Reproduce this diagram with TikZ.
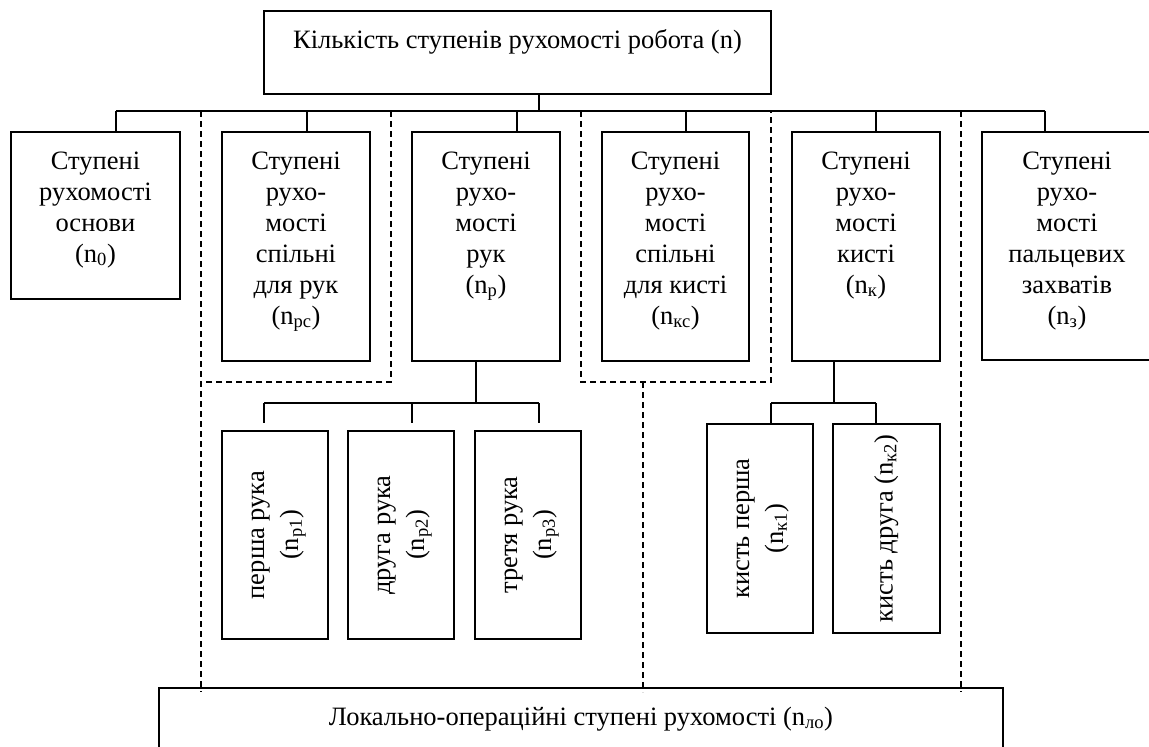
\documentclass[tikz,border=0pt]{standalone}
\usepackage{fontspec}
\usepackage{graphicx}
\setmainfont{Liberation Serif}
\newcommand\blkbox[3]{\parbox[c][#2][t]{#1}{\centering\rule{0pt}{37pt}#3\par}}
\newcommand\rotbox[3]{\parbox[c][#2][c]{#1}{\centering\rotatebox{90}{\begin{tabular}{@{}c@{}}#3\end{tabular}}\par}}
\tikzset{
  blk/.style={draw, line width=1.8pt, inner sep=0pt, outer sep=0pt, anchor=north west, font=\fontsize{26.5}{31}\selectfont},
  con/.style={line width=1.8pt},
  dsh/.style={line width=2pt, dash pattern=on 6pt off 4pt},
}
\begin{document}
\begin{tikzpicture}[x=1pt, y=-1pt]
\useasboundingbox (0,0) rectangle (1149,747);
\clip (0,0) rectangle (1149,747);
\fill[white] (0,0) rectangle (1149,747);
% top box
\node[blk] (T) at (264,11) {\blkbox{507pt}{83pt}{Кількість ступенів рухомості робота (n)}};
% level 1
\node[blk] (B1) at (11,132) {\blkbox{169pt}{167pt}{Ступені\\рухомості\\основи\\(n\textsubscript{0})}};
\node[blk] (B2) at (222,132) {\blkbox{148pt}{229pt}{Ступені\\рухо-\\мості\\спільні\\для рук\\(n\textsubscript{рс})}};
\node[blk] (B3) at (412,132) {\blkbox{148pt}{229pt}{Ступені\\рухо-\\мості\\рук\\(n\textsubscript{р})}};
\node[blk] (B4) at (602,132) {\blkbox{147pt}{229pt}{Ступені\\рухо-\\мості\\спільні\\для кисті\\(n\textsubscript{кс})}};
\node[blk] (B5) at (792,132) {\blkbox{148pt}{229pt}{Ступені\\рухо-\\мості\\кисті\\(n\textsubscript{к})}};
\node[blk] (B6) at (982,132) {\blkbox{170pt}{228pt}{Ступені\\рухо-\\мості\\пальцевих\\захватів\\(n\textsubscript{з})}};
% level 2
\node[blk] (np1) at (222,431) {\rotbox{106pt}{208pt}{перша рука\\[3pt](n\textsubscript{р1})}};
\node[blk] (np2) at (348,431) {\rotbox{106pt}{208pt}{друга рука\\[3pt](n\textsubscript{р2})}};
\node[blk] (np3) at (475,431) {\rotbox{106pt}{208pt}{третя рука\\[3pt](n\textsubscript{р3})}};
\node[blk] (nk1) at (707,424) {\rotbox{106pt}{209pt}{кисть перша\\[3pt](n\textsubscript{к1})}};
\node[blk] (nk2) at (833,424) {\rotbox{107pt}{209pt}{кисть друга (n\textsubscript{к2})}};
% bottom box
\node[blk] (L) at (159,688) {\parbox[c][100pt][t]{844pt}{\centering\rule{0pt}{37pt}Локально-операційні ступені рухомості (n\textsubscript{ло})\par}};
% bus coordinates
\coordinate (ts) at (539,111);
\coordinate (c1) at (116,111);
\coordinate (c2) at (307,111);
\coordinate (c3) at (517,111);
\coordinate (c4) at (686,111);
\coordinate (c5) at (876,111);
\coordinate (c6) at (1045,111);
\draw[con] (ts |- T.south) -- (ts);
\draw[con] (c1) -- (c6);
\foreach \i in {1,...,6} { \draw[con] (c\i) -- (c\i |- B\i.north); }
% arms branch
\coordinate (b3s) at (476,403);
\coordinate (p1) at (264,403);
\coordinate (p2) at (412,403);
\coordinate (p3) at (539,403);
\coordinate (p1e) at (264,423);
\coordinate (p2e) at (412,423);
\coordinate (p3e) at (539,423);
\draw[con] (b3s |- B3.south) -- (b3s);
\draw[con] (p1) -- (p3);
\draw[con] (p1) -- (p1e);
\draw[con] (p2) -- (p2e);
\draw[con] (p3) -- (p3e);
% wrist branch
\coordinate (b5s) at (834,403);
\coordinate (k1) at (771,403);
\coordinate (k2) at (876,403);
\draw[con] (b5s |- B5.south) -- (b5s);
\draw[con] (k1) -- (k2);
\draw[con] (k1) -- (k1 |- nk1.north);
\draw[con] (k2) -- (k2 |- nk2.north);
% dashed groups
\coordinate (d1a) at (201,111);
\coordinate (d1b) at (201,382);
\coordinate (d1c) at (391,382);
\coordinate (d1d) at (391,111);
\coordinate (d2a) at (581,111);
\coordinate (d2b) at (581,382);
\coordinate (d2c) at (771,382);
\coordinate (d2d) at (771,111);
\coordinate (d2m) at (643,382);
\coordinate (d3) at (961,111);
\draw[dsh] (d1d) -- (d1c) -- (d1b);
\draw[dsh] (d1a) -- ([yshift=-4pt]d1a |- L.north);
\draw[dsh] (d2a) -- (d2b) -- (d2c) -- (d2d);
\draw[dsh] (d2m) -- ([yshift=-4pt]d2m |- L.north);
\draw[dsh] (d3) -- ([yshift=-4pt]d3 |- L.north);
\end{tikzpicture}
\end{document}
